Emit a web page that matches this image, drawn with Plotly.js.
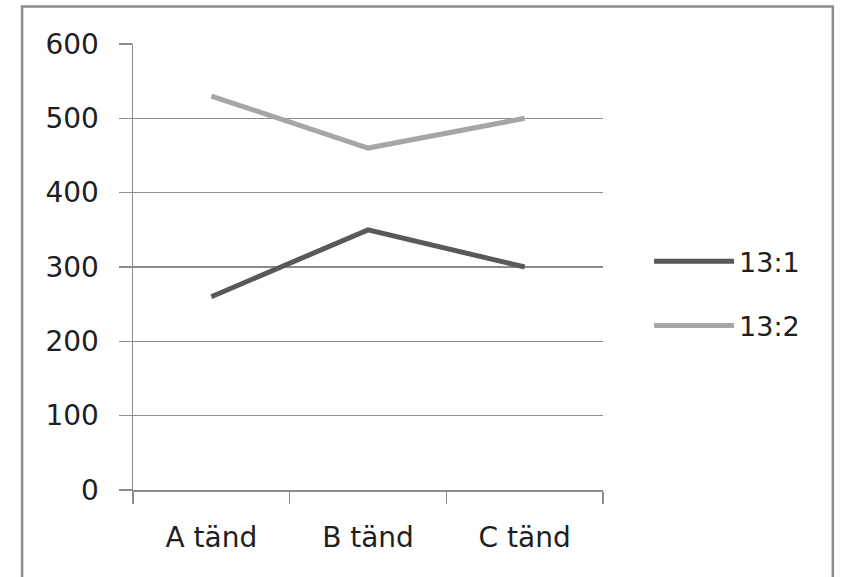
<!DOCTYPE html>
<html>
<head>
<meta charset="utf-8">
<script src="https://cdn.plot.ly/plotly-3.0.1.min.js"></script>
<style>
html,body{margin:0;padding:0;background:#fff;}
#chart{width:841px;height:577px;}
</style>
</head>
<body>
<div id="chart"></div>
<script>
var categories = ["A tänd", "B tänd", "C tänd"];
var seriesNames = ["13:1", "13:2"];
var series1 = [260, 350, 300];
var series2 = [530, 460, 500];
var yTicks = [0, 100, 200, 300, 400, 500, 600];

var FONT = "DejaVu Sans";
var traces = [
  {x: categories, y: series1, name: seriesNames[0], type: "scatter", mode: "lines",
   legendgroup: "g1", line: {color: "#595959", width: 5}},
  {x: categories, y: series2, name: seriesNames[1], type: "scatter", mode: "lines",
   legendgroup: "g2", line: {color: "#a6a6a6", width: 5}}
];

var layout = {
  width: 841, height: 577,
  margin: {l: 133, r: 238, t: 43.5, b: 87, pad: 0},
  paper_bgcolor: "#fff", plot_bgcolor: "#fff",
  font: {family: FONT, size: 28, color: "#1e1e1e"},
  showlegend: true,
  legend: {x: 1.098, y: 0.44, xanchor: "left", yanchor: "middle",
           itemwidth: 80, tracegroupgap: 26, font: {family: FONT, size: 27, color: "#1e1e1e"},
           bgcolor: "rgba(0,0,0,0)"},
  xaxis: {
    type: "category", range: [-0.5, 2.5], fixedrange: true,
    tickson: "boundaries", ticks: "outside", ticklen: 12, tickwidth: 1.5, tickcolor: "#8c8c8c",
    showgrid: false, showline: true, linecolor: "#8c8c8c", linewidth: 1.5,
    zeroline: false, ticklabelstandoff: 22,
    tickfont: {family: FONT, size: 28, color: "#1e1e1e"}
  },
  yaxis: {
    range: [0, 600], tickvals: yTicks, fixedrange: true,
    ticks: "outside", ticklen: 13, tickwidth: 1.5, tickcolor: "#8c8c8c",
    showgrid: true, gridcolor: "#8c8c8c", gridwidth: 1.5,
    showline: true, linecolor: "#8c8c8c", linewidth: 1.5,
    zeroline: false, ticklabelstandoff: 14,
    tickfont: {family: FONT, size: 28, color: "#1e1e1e"}
  },
  shapes: [{
    type: "rect", xref: "paper", yref: "paper", layer: "below",
    x0: -0.236, x1: 1.489, y0: -0.3, y1: 1.084,
    line: {color: "#8c8c8c", width: 2.5}, fillcolor: "rgba(0,0,0,0)"
  }]
};

Plotly.newPlot("chart", traces, layout, {staticPlot: true, displayModeBar: false});
</script>
</body>
</html>
